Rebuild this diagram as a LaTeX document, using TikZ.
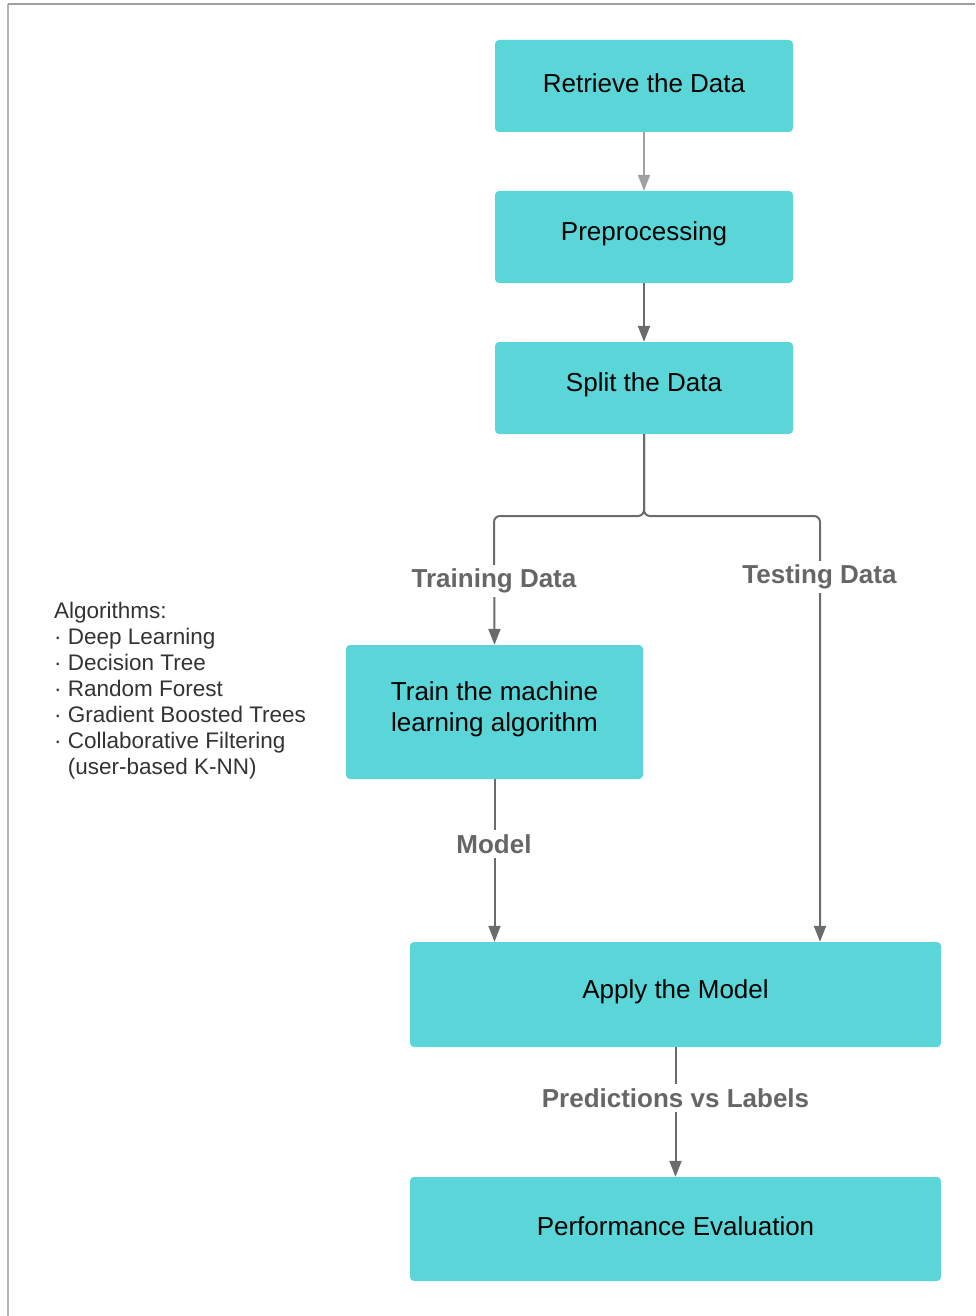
\documentclass[tikz,border=0pt]{standalone}
\usepackage{fontspec}
\setmainfont{Liberation Sans}
\usetikzlibrary{arrows.meta,calc}
\definecolor{boxfill}{RGB}{90,214,216}
\definecolor{linegray}{RGB}{107,107,107}
\definecolor{lightline}{RGB}{160,160,160}
\definecolor{labgray}{RGB}{102,102,102}
\definecolor{txtdark}{RGB}{51,51,51}
\tikzset{
  stepbox/.style={draw=none, fill=boxfill, rounded corners=4pt, inner sep=0pt},
  boxtext/.style={inner sep=0pt, font=\fontsize{26}{31}\selectfont, text=black, align=center},
  arr/.style={draw=linegray, line width=2pt, -{Triangle[length=16pt,width=12pt]}},
  lab/.style={fill=white, text=labgray, inner sep=4pt, font=\fontsize{26}{30}\selectfont\bfseries},
}
\begin{document}
\begin{tikzpicture}[x=1pt,y=-1pt]
\useasboundingbox (0,0) rectangle (975,1316);
% page frame
\draw[draw=lightline!80, line width=1.5pt] (8,1316) -- (8,4);
\draw[draw=lightline, line width=1.5pt] (8,4) -- (975,4);
% boxes
\node[stepbox, minimum width=298pt, minimum height=92pt] (retrieve) at (644,86) {};
\node[boxtext] (retrieveT) at (644,83) {Retrieve the Data};
\node[stepbox, minimum width=298pt, minimum height=92pt] (prep) at (644,237) {};
\node[boxtext] (prepT) at (644,234) {Preprocessing};
\node[stepbox, minimum width=298pt, minimum height=92pt] (split) at (644,388) {};
\node[boxtext] (splitT) at (644,385) {Split the Data};
\node[stepbox, minimum width=297pt, minimum height=134pt] (train) at (494.5,712) {};
\node[boxtext] (trainT) at (494.5,709) {Train the machine\\learning algorithm};
\node[stepbox, minimum width=531pt, minimum height=105pt] (apply) at (675.5,994.5) {};
\node[boxtext] (applyT) at (675.5,991.5) {Apply the Model};
\node[stepbox, minimum width=531pt, minimum height=104pt] (perf) at (675.5,1229) {};
\node[boxtext] (perfT) at (675.5,1226) {Performance Evaluation};
% connectors
\draw[arr, draw=lightline] (retrieve) -- (prep);
\draw[arr] (prep) -- (split);
\coordinate (jl) at (494,516);
\coordinate (jr) at (820,516);
\draw[arr, rounded corners=6pt] (split.south) |- (jl) -- (train.north);
\draw[arr, rounded corners=6pt] (split.south) |- (jr) -- (jr |- apply.north);
\draw[arr] (train.south) -- (train.south |- apply.north);
\draw[arr] (apply) -- (perf);
% labels
\node[lab] (ltrain) at (494,581) {Training Data};
\node[lab] (ltest) at (819.5,577) {Testing Data};
\node[lab] (lmodel) at (494,844) {Model};
\node[lab] (lpred) at (675.5,1098) {Predictions vs Labels};
% algorithms list
\node[anchor=north west, inner sep=0pt, align=left, text=txtdark,
  font=\fontsize{22.5}{26}\selectfont] (algos) at (54,602)
  {Algorithms:\\
   · Deep Learning\\
   · Decision Tree\\
   · Random Forest\\
   · Gradient Boosted Trees\\
   · Collaborative Filtering\\
   \phantom{· }(user-based K-NN)};
\end{tikzpicture}
\end{document}
